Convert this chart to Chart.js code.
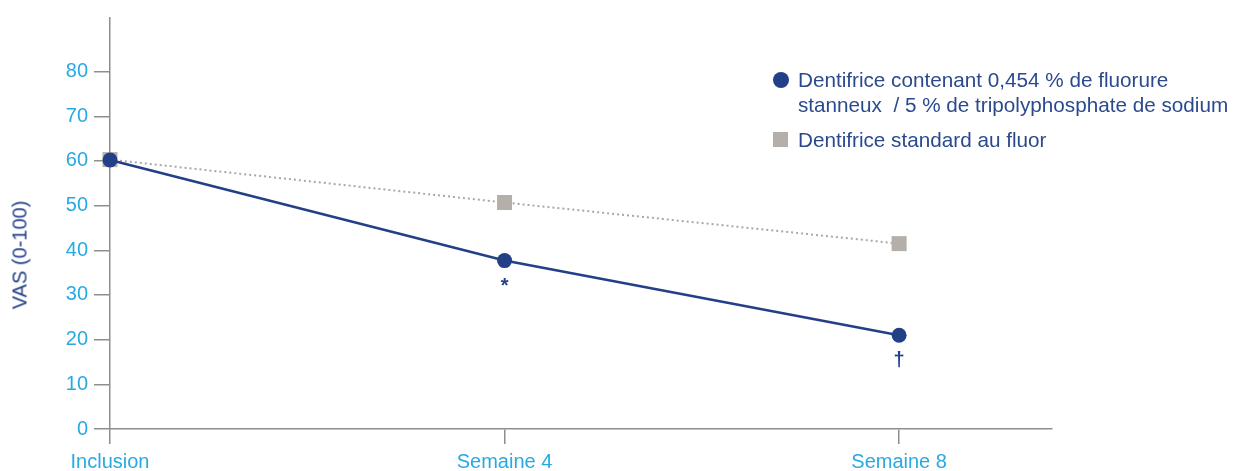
<!DOCTYPE html>
<html><head><meta charset="utf-8">
<script src="https://cdn.jsdelivr.net/npm/chart.js@4"></script>
<style>
html,body{margin:0;padding:0;background:#fff;}
#wrap{position:relative;width:1235px;height:471px;overflow:hidden;font-family:"Liberation Sans",Arial,sans-serif;}
#c{position:absolute;left:0;top:0;}
.leg{position:absolute;color:#2b4a8e;font-size:20.7px;line-height:25px;white-space:nowrap;}
.mk{position:absolute;}
#ytitle{position:absolute;left:20px;top:255px;transform:translate(-50%,-50%) rotate(-90deg);color:#233f88;font-size:20px;white-space:nowrap;}
</style></head><body>
<div id="wrap">
<canvas id="c" width="1235" height="471"></canvas>
<div id="ytitle">VAS (0-100)</div>
<div class="mk" style="left:773px;top:72px;width:16px;height:16px;border-radius:50%;background:#233f88;"></div>
<div class="leg" style="left:798px;top:67px;">Dentifrice contenant 0,454 % de fluorure<br>stanneux&nbsp; / 5 % de tripolyphosphate de sodium</div>
<div class="mk" style="left:773px;top:132px;width:15px;height:15px;background:#b4afa9;"></div>
<div class="leg" style="left:798px;top:127px;">Dentifrice standard au fluor</div>
</div>
<script>
const weeks = [0, 4, 8];
const categories = ["Inclusion", "Semaine 4", "Semaine 8"];
const stannousValues = [60.2, 37.7, 21.0];
const standardValues = [60.3, 50.7, 41.5];
const significance = ["", "*", "\u2020"];
const yTicks = [0, 10, 20, 30, 40, 50, 60, 70, 80];

const NAVY = "#233f88";
const LIGHTBLUE = "#29a9e1";
const AXIS = "#8e8e8e";

const annotPlugin = {
  id: "annot",
  afterDatasetsDraw(chart) {
    const meta = chart.getDatasetMeta(0);
    const ctx = chart.ctx;
    ctx.save();
    ctx.fillStyle = NAVY;
    ctx.font = "bold 20px 'Liberation Sans', Arial, sans-serif";
    ctx.textAlign = "center";
    ctx.textBaseline = "alphabetic";
    meta.data.forEach((pt, i) => {
      if (significance[i]) ctx.fillText(significance[i], pt.x, pt.y + 31);
    });
    ctx.restore();
  }
};

new Chart(document.getElementById("c"), {
  type: "line",
  data: {
    datasets: [
      {
        label: "Dentifrice contenant 0,454 % de fluorure stanneux / 5 % de tripolyphosphate de sodium",
        data: weeks.map((w, i) => ({ x: w, y: stannousValues[i] })),
        borderColor: NAVY,
        backgroundColor: NAVY,
        borderWidth: 2.5,
        pointRadius: 7.5,
        pointHoverRadius: 7.5,
        pointStyle: "circle",
        pointBorderWidth: 0,
        tension: 0,
        clip: false
      },
      {
        label: "Dentifrice standard au fluor",
        data: weeks.map((w, i) => ({ x: w, y: standardValues[i] })),
        borderColor: "#a8a8a8",
        backgroundColor: "#b4afa9",
        borderWidth: 2,
        borderDash: [2, 3],
        pointRadius: 10.6,
        pointHoverRadius: 10.6,
        pointStyle: "rect",
        pointBorderWidth: 0,
        tension: 0,
        clip: false
      }
    ]
  },
  options: {
    responsive: false,
    animation: false,
    events: [],
    layout: { padding: { left: 0, top: 17, right: 183, bottom: 0 } },
    plugins: { legend: { display: false }, tooltip: { enabled: false } },
    scales: {
      x: {
        type: "linear",
        min: 0,
        max: 9.55,
        afterBuildTicks: s => { s.ticks = weeks.map(v => ({ value: v })); },
        afterFit: s => { s.height = 42; },
        ticks: {
          color: LIGHTBLUE,
          font: { size: 20, family: "'Liberation Sans', Arial, sans-serif" },
          padding: 6,
          maxRotation: 0,
          autoSkip: false,
          callback: (v) => { const i = weeks.indexOf(v); return i >= 0 ? categories[i] : ""; }
        },
        grid: { drawOnChartArea: false, color: AXIS, lineWidth: 1.5, tickLength: 15 },
        border: { color: AXIS, width: 1.5 }
      },
      y: {
        min: 0,
        max: 92,
        afterBuildTicks: s => { s.ticks = yTicks.map(v => ({ value: v })); },
        afterFit: s => { s.width = 110; },
        ticks: {
          color: LIGHTBLUE,
          font: { size: 20, family: "'Liberation Sans', Arial, sans-serif" },
          padding: 6
        },
        grid: { drawOnChartArea: false, color: AXIS, lineWidth: 1.5, tickLength: 16 },
        border: { color: AXIS, width: 1.5 }
      }
    }
  },
  plugins: [annotPlugin]
});
</script>
</body></html>
